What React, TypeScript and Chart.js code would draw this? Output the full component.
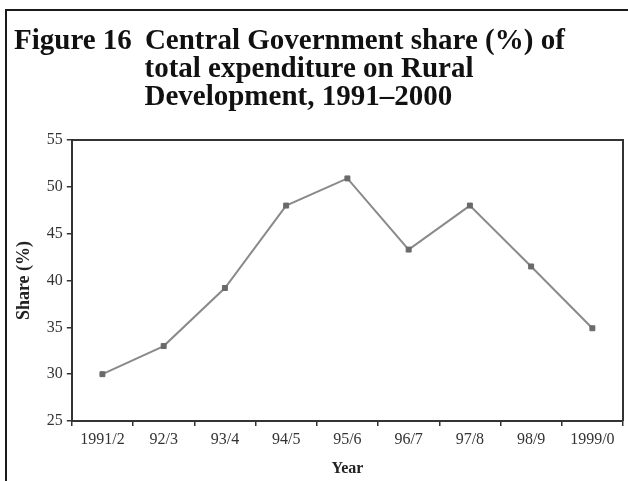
import React, { useEffect, useRef } from "react";
import { Chart, registerables } from "chart.js";

Chart.register(...registerables);

const CATEGORIES = ["1991/2", "92/3", "93/4", "94/5", "95/6", "96/7", "97/8", "98/9", "1999/0"];
const SHARE = [30.0, 33.0, 39.2, 48.0, 50.9, 43.3, 48.0, 41.5, 34.9];
const Y_MIN = 25;
const Y_MAX = 55;
const Y_STEP = 5;
const TITLE_LINES = [
  "Figure 16 \u2009Central Government share (%) of",
  "                  total expenditure on Rural",
  "                  Development, 1991\u20132000",
];
const X_TITLE = "Year";
const Y_TITLE = "Share (%)";

const SERIF = "'Liberation Serif', 'Times New Roman', Times, serif";
const AXIS = "#333333";

const plotFrame = {
  id: "plotFrame",
  beforeDatasetsDraw(chart: any) {
    const { ctx, chartArea } = chart;
    ctx.save();
    ctx.strokeStyle = AXIS;
    ctx.lineWidth = 2;
    ctx.beginPath();
    ctx.moveTo(chartArea.left, chartArea.top);
    ctx.lineTo(chartArea.right, chartArea.top);
    ctx.lineTo(chartArea.right, chartArea.bottom);
    ctx.stroke();
    ctx.restore();
  },
};

export default function App() {
  const ref = useRef<HTMLCanvasElement | null>(null);

  useEffect(() => {
    document.body.style.margin = "0";
    const canvas = ref.current;
    if (!canvas) return;
    const chart = new Chart(canvas, {
      type: "line",
      data: {
        labels: CATEGORIES,
        datasets: [
          {
            data: SHARE,
            borderColor: "#8a8a8a",
            borderWidth: 2,
            tension: 0,
            pointStyle: "rect",
            pointRadius: 3.5,
            pointBackgroundColor: "#6a6a6a",
            pointBorderColor: "#6a6a6a",
            pointBorderWidth: 1,
          },
        ],
      },
      options: {
        responsive: false,
        animation: false,
        devicePixelRatio: 1,
        layout: { padding: { top: 10, left: 14, right: 5, bottom: 2.6 } },
        plugins: {
          legend: { display: false },
          tooltip: { enabled: false },
          title: {
            display: true,
            text: TITLE_LINES,
            align: "start",
            color: "#111111",
            font: { family: SERIF, size: 29, weight: "bold", lineHeight: "28px" },
            padding: { top: 18, bottom: 28 },
          },
        },
        scales: {
          x: {
            type: "category",
            offset: true,
            grid: {
              display: true,
              offset: true,
              drawOnChartArea: false,
              drawTicks: true,
              tickLength: 5,
              color: AXIS,
              lineWidth: 1.5,
            },
            border: { display: true, color: AXIS, width: 2 },
            ticks: {
              autoSkip: false,
              maxRotation: 0,
              minRotation: 0,
              padding: 4,
              color: "#333333",
              font: { family: SERIF, size: 16 },
            },
            title: {
              display: true,
              text: X_TITLE,
              color: "#222222",
              font: { family: SERIF, size: 16, weight: "bold" },
              padding: { top: 6, bottom: 0 },
            },
          },
          y: {
            min: Y_MIN,
            max: Y_MAX,
            grid: {
              display: true,
              drawOnChartArea: false,
              drawTicks: true,
              tickLength: 5,
              color: AXIS,
              lineWidth: 1.5,
            },
            border: { display: true, color: AXIS, width: 2 },
            ticks: {
              stepSize: Y_STEP,
              padding: 4,
              color: "#333333",
              font: { family: SERIF, size: 16 },
            },
            title: {
              display: true,
              text: Y_TITLE,
              color: "#222222",
              font: { family: SERIF, size: 18, weight: "bold", lineHeight: 1.1 },
              padding: { top: 0, bottom: 9 },
            },
          },
        },
      },
      plugins: [plotFrame],
    });
    return () => chart.destroy();
  }, []);

  return (
    <div style={{ position: "relative", width: 628, height: 481, overflow: "hidden", background: "#ffffff" }}>
      <canvas ref={ref} width={628} height={481} style={{ position: "absolute", left: 0, top: 0 }} />
      <div
        style={{
          position: "absolute",
          left: 5,
          top: 9,
          width: 660,
          height: 500,
          borderLeft: "2px solid #1a1a1a",
          borderTop: "2px solid #1a1a1a",
          pointerEvents: "none",
        }}
      />
    </div>
  );
}
